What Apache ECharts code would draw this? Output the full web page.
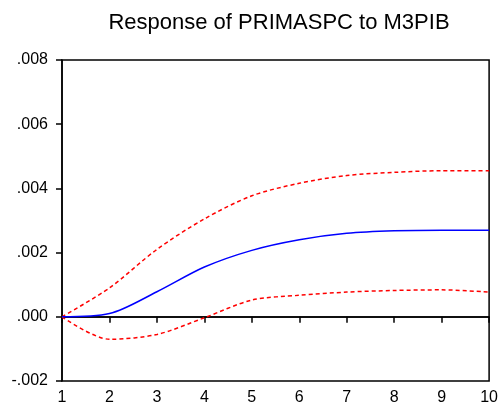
<!DOCTYPE html>
<html>
<head>
<meta charset="utf-8">
<script src="https://cdn.jsdelivr.net/npm/echarts@6/dist/echarts.min.js"></script>
<style>
  html, body { margin: 0; padding: 0; background: #fff; }
  #chart { width: 501px; height: 408px; }
</style>
</head>
<body>
<div id="chart"></div>
<script>
// Periods 1..10
const periods = [1, 2, 3, 4, 5, 6, 7, 8, 9, 10];
const response = [0, 0.0001, 0.00078, 0.00155, 0.00207, 0.0024, 0.0026, 0.00268, 0.0027, 0.0027];
const upperBand = [0, 0.0009, 0.0021, 0.00305, 0.00377, 0.00416, 0.0044, 0.0045, 0.00455, 0.00455];
const lowerBand = [0, -0.0007, -0.00055, -0.00003, 0.00052, 0.00067, 0.00077, 0.00082, 0.00084, 0.00077];

const pairs = (ys) => periods.map((p, i) => [p, ys[i]]);

const chart = echarts.init(document.getElementById("chart"));

// .008 style labels, no leading zero
const fmtY = (v) => {
  const s = Math.abs(v).toFixed(3).replace(/^0/, "");
  return v < -1e-9 ? "-" + s : s;
};

const option = {
  animation: false,
  title: {
    text: "Response of PRIMASPC to M3PIB",
    left: 274,
    textAlign: "center",
    top: 7,
    textStyle: { fontFamily: "Liberation Sans", fontSize: 22, fontWeight: "normal", color: "#000" },
  },
  grid: {
    left: 62,
    right: 9,
    top: 60,
    bottom: 27,
    show: true,
    borderColor: "#000",
    borderWidth: 1.5,
  },
  xAxis: {
    type: "value",
    min: 1,
    max: 10,
    interval: 1,
    splitLine: { show: false },
    axisLine: { show: true, lineStyle: { color: "#000", width: 1.5 } },
    axisTick: { show: true, inside: false, length: 6, lineStyle: { color: "#000", width: 1.5 } },
    axisLabel: { color: "#000", fontFamily: "Liberation Sans", fontSize: 16, margin: 9 },
  },
  yAxis: {
    type: "value",
    min: -0.002,
    max: 0.008,
    interval: 0.002,
    splitLine: { show: false },
    axisLine: { show: true, lineStyle: { color: "#000", width: 1.5 } },
    axisTick: { show: true, inside: false, length: 6, lineStyle: { color: "#000", width: 1.5 } },
    axisLabel: { color: "#000", fontFamily: "Liberation Sans", fontSize: 16, margin: 14, formatter: fmtY },
  },
  series: [
    {
      name: "Upper",
      type: "line",
      data: pairs(upperBand),
      smooth: 0.3,
      showSymbol: false,
      lineStyle: { color: "#ff0000", width: 1.5, type: [4, 3] },
      z: 3,
    },
    {
      name: "Lower",
      type: "line",
      data: pairs(lowerBand),
      smooth: 0.3,
      showSymbol: false,
      lineStyle: { color: "#ff0000", width: 1.5, type: [4, 3] },
      z: 3,
    },
    {
      name: "Response",
      type: "line",
      data: pairs(response),
      smooth: 0.3,
      showSymbol: false,
      lineStyle: { color: "#0000ff", width: 1.5 },
      z: 4,
      markLine: {
        silent: true,
        symbol: "none",
        label: { show: false },
        lineStyle: { color: "#000", width: 1.5, type: "solid" },
        data: [{ yAxis: 0 }],
        z: 2,
      },
    },
  ],
};

chart.setOption(option);
</script>
</body>
</html>
